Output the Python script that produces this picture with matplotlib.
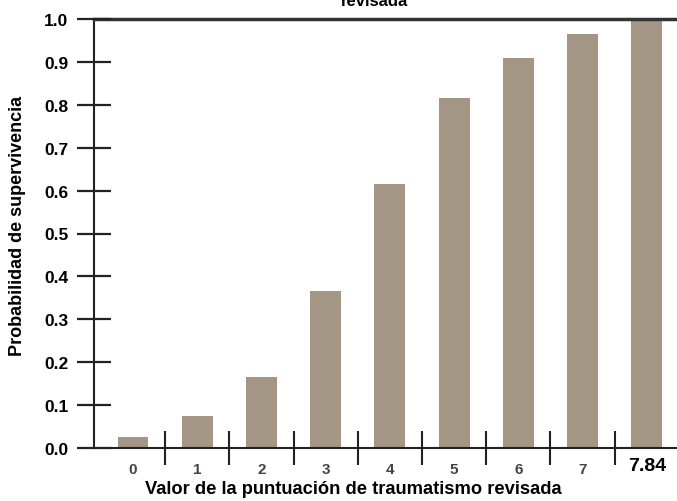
import matplotlib
matplotlib.use("Agg")
import matplotlib.pyplot as plt
import numpy as np

# survival probability by revised trauma score
score_labels = ["0", "1", "2", "3", "4", "5", "6", "7", "7.84"]
survival = [0.025, 0.075, 0.165, 0.365, 0.615, 0.815, 0.91, 0.965, 0.995]
y_ticks = [0.0, 0.1, 0.2, 0.3, 0.4, 0.5, 0.6, 0.7, 0.8, 0.9, 1.0]

plt.rcParams['font.family'] = ['Liberation Sans', 'DejaVu Sans']

fig = plt.figure(figsize=(6.77, 5.02), dpi=100)
ax_w = 1 - 94/677
ax = fig.add_axes([94/677, 53/502, ax_w, (449 - 20)/502])

pos = np.arange(len(score_labels))
ax.bar(pos, survival, width=0.48, color="#a39684", zorder=1)

ax.set_xlim(-0.607, 8.47)
ax.set_ylim(0, 1.0)

# y axis: labels from the tick locator, crossing tick marks drawn as short lines
ax.set_yticks(y_ticks)
ax.set_yticklabels(["%.1f" % v for v in y_ticks], fontsize=12.5, fontweight="bold")
ax.tick_params(axis="y", length=0, pad=18.5)
half = 17 / (ax_w * 677)   # half tick length in axes fraction
ax.hlines(y_ticks, -half, half, transform=ax.get_yaxis_transform(),
          colors="#222222", linewidth=1.6, clip_on=False, zorder=3)

# x axis: crossing marks between bars, labels under bars
ax.set_xticks(pos[:-1] + 0.5)
ax.set_xticklabels([])
ax.tick_params(axis="x", which="major", direction="inout", length=24, width=1.5, color="#222222")
ax.set_xticks(pos, minor=True)
ax.set_xticklabels(score_labels, minor=True)
ax.tick_params(axis="x", which="minor", length=0, pad=10)
for i, lbl in enumerate(ax.get_xticklabels(minor=True)):
    if i == len(score_labels) - 1:
        lbl.set_fontsize(14)
        lbl.set_fontweight("bold")
        lbl.set_color("black")
        lbl.set_y(0.012)
    else:
        lbl.set_fontsize(11)
        lbl.set_fontweight("bold")
        lbl.set_color("#4a4048")

ax.spines["right"].set_visible(False)
ax.spines["left"].set_linewidth(1.5)
ax.spines["bottom"].set_linewidth(1.5)
ax.spines["top"].set_linewidth(2.5)
ax.spines["top"].set_color("#333333")
for s in ["left", "bottom"]:
    ax.spines[s].set_color("#222222")

fig.text(18/677, 1 - 226/502, "Probabilidad de supervivencia", rotation=90,
         ha="center", va="center", fontsize=13, fontweight="bold")
fig.text(353/677, 1 - 490/502, "Valor de la puntuación de traumatismo revisada",
         ha="center", va="center", fontsize=13.2, fontweight="bold")
# title, cut off at the top of the image
fig.text(375/677, 1 - 6/502, "revisada", ha="center", va="baseline",
         fontsize=12, fontweight="bold")

plt.savefig("out.png", dpi=100)
